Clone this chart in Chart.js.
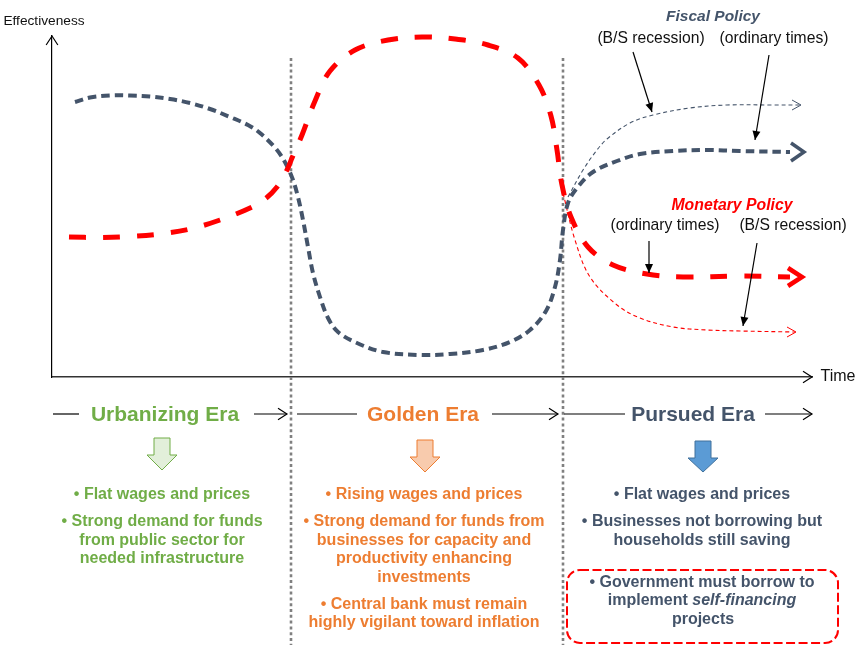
<!DOCTYPE html>
<html><head><meta charset="utf-8">
<script src="https://cdn.jsdelivr.net/npm/chart.js@4"></script>
<style>
html,body{margin:0;padding:0;background:#fff;overflow:hidden}
#w{position:relative;width:859px;height:645px;font-family:"Liberation Sans",Arial,sans-serif}
canvas{position:absolute;left:0;top:0}
.t{position:absolute;white-space:nowrap;transform:translate(-50%,-50%);line-height:1}
</style></head><body><div id="w"><canvas id="c" width="859" height="645"></canvas></div>
<script>
// Curve values, in axis units (time, effectiveness)
const fiscalTime=[23,38,58,78,98,118,138,158,178,196,208,225,235,241,246,251,256,261,268,276,286,305,331,368,398,431,458,478,494,503,508,511,516,525,541,565,588,621,655,688,738];
const fiscalOrdinary=[275,279.5,281.5,281.5,280.5,278,274,268,260,252,244,227,211,197,180,157,130,104,80,59,45,34,25,22,23,27,35,47,66,90,117,147,174,189,205,216,223,226,227,226,225];
const monetaryTime=[17,48,78,108,138,168,198,213,225,235,240,250,263,278,303,336,370,403,436,466,487,499,505,510,519,536,561,595,631,688,738];
const monetaryOrdinary=[140,139.5,140.5,143,148,157,169,178,190,207,219,242,276,306,327,337,340,338,332,319,292,261,227,192,160,130,112,103,100,101,100];
const fiscalBSTime=[516,531,545,555,578,601,638,675,721,748];
const fiscalBS=[180,207,227,238,254,262,269,272,272,272];
const monetaryBSTime=[511,523,538,565,588,621,655,688,743];
const monetaryBS=[184,137,100,72,59,50,47,46,45];
const eraBoundaries=[239,511];
const eraSpan=[319,-268];

// Text
const eraNames=["Urbanizing Era","Golden Era","Pursued Era"];
const eraColors=["#70ad47","#ed7d31","#44546a"];
const eraCenters=[165,423,693];
const bulletsUrban=[["• Flat wages and prices",162,494],["• Strong demand for funds",162,521],["from public sector for",162,540],["needed infrastructure",162,558]];
const bulletsGolden=[["• Rising wages and prices",424,494],["• Strong demand for funds from",424,521],["businesses for capacity and",424,540],["productivity enhancing",424,558],["investments",424,577],["• Central bank must remain",424,604],["highly vigilant toward inflation",424,622]];
const bulletsPursued=[["• Flat wages and prices",702,494],["• Businesses not borrowing but",702,521],["households still saving",702,540],["• Government must borrow to",702,582],["implement <i>self-financing</i>",702,600],["projects",703,619]];
const labels=[["Effectiveness",44,21,"#111",400,13.7,""],["Time",838,376,"#111",400,16,""],["(B/S recession)",651,38,"#111",400,15.7,""],["(ordinary times)",774,38,"#111",400,15.7,""],["(ordinary times)",665,225,"#111",400,15.7,""],["(B/S recession)",793,225,"#111",400,15.7,""],["Fiscal Policy",713,16,"#44546a",700,15.5,"italic"],["Monetary Policy",732,205,"#ff0000",700,15.8,"italic"]];

const pts=(xs,ys)=>xs.map((x,i)=>({x,y:ys[i]}));
const DARK="#44546a",RED="#ff0000";
const line=(label,data,color,w,dash,head)=>({label,data,showLine:true,borderColor:color,borderWidth:w,borderDash:dash,pointRadius:0,tension:0.35,fill:false,clip:false,head,borderCapStyle:'butt'});

const decor={id:'decor',afterDatasetsDraw(ch){
  const c=ch.ctx,X=ch.scales.x,Y=ch.scales.y;
  c.save();
  // end-of-line arrowheads, located from each dataset's last value
  ch.data.datasets.forEach(d=>{ if(!d.head) return;
    const p=d.data[d.data.length-1],x=X.getPixelForValue(p.x)+d.head[3],y=Y.getPixelForValue(p.y),h=d.head;
    c.strokeStyle=d.borderColor;c.lineWidth=h[2];c.setLineDash([]);c.lineJoin='miter';
    c.beginPath();c.moveTo(x-h[0],y-h[1]);c.lineTo(x,y);c.lineTo(x-h[0],y+h[1]);c.stroke();
  });
  // axis heads
  const ax=X.getPixelForValue(0),ay=Y.getPixelForValue(0);
  const chev=(a,b,ang,s,col,lw)=>{c.save();c.translate(a,b);c.rotate(ang);c.strokeStyle=col;c.lineWidth=lw;c.beginPath();c.moveTo(-s,-s*.65);c.lineTo(0,0);c.lineTo(-s,s*.65);c.stroke();c.restore();};
  c.setLineDash([]);
  chev(ax,Y.getPixelForValue(Y.max),-Math.PI/2,9,'#000',1.2);
  chev(X.getPixelForValue(X.max),ay,0,9,'#000',1.2);
  // pointer arrows
  const ptr=(x0,y0,x1,y1)=>{c.strokeStyle='#000';c.fillStyle='#000';c.lineWidth=1.2;c.beginPath();c.moveTo(x0,y0);c.lineTo(x1,y1);c.stroke();
    const a=Math.atan2(y1-y0,x1-x0);c.save();c.translate(x1,y1);c.rotate(a);c.beginPath();c.moveTo(0,0);c.lineTo(-9,-4);c.lineTo(-9,4);c.closePath();c.fill();c.restore();};
  ptr(633,52,652,112);ptr(769,55,755,140);ptr(649,241,649,273);ptr(757,243,743,326);
  // era arrows
  const seg=(x0,x1,arrow)=>{c.strokeStyle='#000';c.lineWidth=1.2;c.beginPath();c.moveTo(x0,414);c.lineTo(x1,414);c.stroke();if(arrow)chev(x1,414,0,9,'#000',1.2);};
  seg(53,79);seg(254,287,1);seg(297,357);seg(492,558,1);seg(564,625);seg(765,812,1);
  // block arrows
  const block=(cx,top,bot,fill,stroke)=>{c.fillStyle=fill;c.strokeStyle=stroke;c.lineWidth=1;c.beginPath();
    c.moveTo(cx-8,top);c.lineTo(cx+8,top);c.lineTo(cx+8,top+17);c.lineTo(cx+15,top+17);c.lineTo(cx,bot);c.lineTo(cx-15,top+17);c.lineTo(cx-8,top+17);c.closePath();c.fill();c.stroke();};
  block(162,438,470,'#e2efda','#70ad47');block(425,440,472,'#f8cbad','#ed7d31');block(703,441,472,'#5b9bd5','#41719c');
  // red box
  c.strokeStyle=RED;c.lineWidth=2;c.setLineDash([9,3.5]);c.beginPath();c.roundRect(567,570,271,73,13);c.stroke();
  c.restore();
}};

new Chart(document.getElementById('c'),{type:'scatter',
 data:{datasets:[
  line('Monetary policy (ordinary times)',pts(monetaryTime,monetaryOrdinary),RED,5,[17,17],[14,9,4.5,12]),
  line('Fiscal policy (ordinary times)',pts(fiscalTime,fiscalOrdinary),DARK,4,[8.5,5],[13,9,3.5,14]),
  line('Fiscal policy (B/S recession)',pts(fiscalBSTime,fiscalBS),DARK,1.1,[4,3],[9,5,1,1]),
  line('Monetary policy (B/S recession)',pts(monetaryBSTime,monetaryBS),RED,1.1,[4,3],[9,5,1,1]),
  ...eraBoundaries.map(b=>({label:'Era boundary',data:pts([b,b],eraSpan),showLine:true,borderColor:'#808080',borderWidth:2.6,borderDash:[3,2.8],pointRadius:0,clip:false,fill:false}))
 ]},
 options:{responsive:false,animation:false,
  layout:{padding:{left:52,right:47,top:36,bottom:268}},
  plugins:{legend:{display:false},tooltip:{enabled:false}},
  scales:{
   x:{type:'linear',min:0,max:760,grid:{display:false,drawTicks:false},ticks:{display:false},border:{color:'#333',width:1.5}},
   y:{type:'linear',min:0,max:341,grid:{display:false,drawTicks:false},ticks:{display:false},border:{color:'#000',width:1.2}}
  }},
 plugins:[decor]});

const W=document.getElementById('w');
const put=(html,x,y,col,wt,sz,st)=>{const d=document.createElement('div');d.className='t';d.innerHTML=html;d.style.cssText=`left:${x}px;top:${y}px;color:${col};font-weight:${wt};font-size:${sz}px;font-style:${st||'normal'}`;W.appendChild(d);};
eraNames.forEach((n,i)=>put(n,eraCenters[i],413,eraColors[i],700,21));
bulletsUrban.forEach(b=>put(b[0],b[1],b[2],eraColors[0],700,16));
bulletsGolden.forEach(b=>put(b[0],b[1],b[2],eraColors[1],700,16));
bulletsPursued.forEach(b=>put(b[0],b[1],b[2],eraColors[2],700,16));
labels.forEach(l=>put(l[0],l[1],l[2],l[3],l[4],l[5],l[6]));
</script></body></html>
